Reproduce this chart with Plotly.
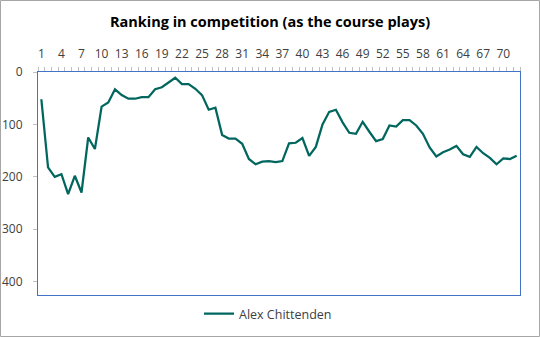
import plotly.graph_objects as go

# Round-by-round ranking (lower is better)
rounds = list(range(1, 73))
ranking = [
    52, 182, 200, 195, 233, 198, 230, 125, 147, 66,
    58, 33, 44, 51, 51, 48, 48, 33, 29, 20,
    11, 23, 23, 32, 44, 72, 68, 120, 127, 127,
    137, 166, 176, 171, 170, 172, 170, 136, 135, 126,
    160, 143, 100, 76, 72, 96, 116, 118, 95, 114,
    132, 128, 102, 104, 92, 92, 102, 118, 144, 161,
    153, 148, 141, 157, 162, 143, 155, 164, 176, 165,
    166, 160,
]
x_tick_labels = list(range(1, 72, 3))
y_tick_values = [0, 100, 200, 300, 400]
series_name = "Alex Chittenden"

FONT = "Open Sans"
AXIS_BLUE = "#4472C4"
TICK_GREY = "#BFBFBF"
LINE_COLOR = "#00665E"

W, H = 540, 337
L, R, T, B = 38, 20, 72, 42
pw, ph = W - L - R, H - T - B

fig = go.Figure(
    go.Scatter(
        x=rounds,
        y=ranking,
        mode="lines",
        name=series_name,
        line=dict(color=LINE_COLOR, width=2.25),
    )
)

fig.update_layout(
    width=W,
    height=H,
    margin=dict(l=L, r=R, t=T, b=B, autoexpand=False),
    paper_bgcolor="white",
    plot_bgcolor="white",
    font=dict(family=FONT, size=12, color="#404040"),
    title=dict(
        text="<b>Ranking in competition (as the course plays)</b>",
        x=0.5,
        xanchor="center",
        y=1 - 22 / H,
        yanchor="middle",
        font=dict(family=FONT, size=14.5, color="#000000"),
    ),
    showlegend=True,
    legend=dict(
        orientation="h",
        x=0.5 - 11 / pw,
        xanchor="center",
        y=-(314 - 295) / ph,
        yanchor="middle",
        font=dict(family=FONT, size=12.5, color="#404040"),
        bgcolor="rgba(0,0,0,0)",
    ),
    xaxis=dict(
        side="top",
        range=[0.5, 72.5],
        automargin=False,
        tickmode="array",
        tickvals=x_tick_labels,
        ticktext=[str(v) for v in x_tick_labels],
        ticks="",
        ticklabelstandoff=8,
        showgrid=False,
        zeroline=False,
        showline=True,
        mirror=True,
        linecolor=AXIS_BLUE,
        linewidth=1,
        minor=dict(
            tick0=0.5,
            dtick=1,
            ticks="outside",
            ticklen=4,
            tickcolor=TICK_GREY,
            tickwidth=1,
            showgrid=False,
        ),
        tickfont=dict(family=FONT, size=12, color="#404040"),
    ),
    yaxis=dict(
        range=[425.5, 0],
        automargin=False,
        tickmode="array",
        tickvals=y_tick_values,
        ticks="outside",
        ticklen=4,
        tickcolor=TICK_GREY,
        ticklabelstandoff=8,
        showgrid=False,
        zeroline=False,
        showline=True,
        mirror=True,
        linecolor=AXIS_BLUE,
        linewidth=1,
        tickfont=dict(family=FONT, size=12, color="#404040"),
    ),
    shapes=[
        dict(
            type="rect",
            xref="paper",
            yref="paper",
            x0=-(L - 0.5) / pw,
            x1=1 + (R - 0.5) / pw,
            y0=-(B - 0.5) / ph,
            y1=1 + (T - 0.5) / ph,
            line=dict(color="#A6A6A6", width=1),
            fillcolor="rgba(0,0,0,0)",
            layer="below",
        )
    ],
)

fig.write_html("out.html")
